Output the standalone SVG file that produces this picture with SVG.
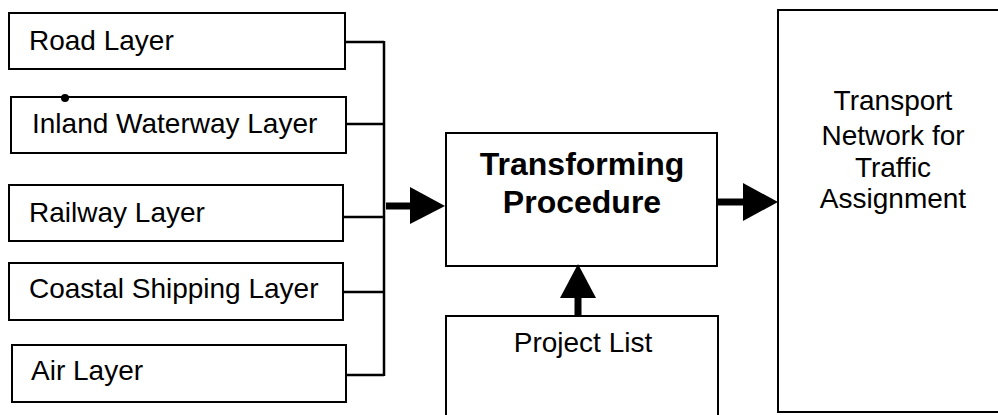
<svg xmlns="http://www.w3.org/2000/svg" width="998" height="415" viewBox="0 0 998 415">
<style>
.box{fill:#fff;stroke:#000;stroke-width:2}
.lbl{font-family:"Liberation Sans",Arial,sans-serif;font-size:28px;fill:#000}
.big{font-family:"Liberation Sans",Arial,sans-serif;font-size:32px;font-weight:bold;fill:#000;text-anchor:middle}
.mid{text-anchor:middle}
.bus{fill:none;stroke:#000;stroke-width:2.5}
.fat{fill:none;stroke:#000;stroke-width:7}
.head{fill:#000}
</style>
<rect width="998" height="415" fill="#fff"/>
<g id="road"><rect class="box" x="9" y="13" width="336" height="56"/><text class="lbl" x="29" y="50">Road Layer</text></g>
<g id="inland"><rect class="box" x="11" y="97" width="335" height="56"/><circle cx="65" cy="98" r="4" fill="#000"/><text class="lbl" x="32" y="133">Inland Waterway Layer</text></g>
<g id="railway"><rect class="box" x="9" y="185" width="334" height="56"/><text class="lbl" x="29" y="222">Railway Layer</text></g>
<g id="coastal"><rect class="box" x="9" y="263" width="334" height="57"/><text class="lbl" x="29" y="298">Coastal Shipping Layer</text></g>
<g id="air"><rect class="box" x="12" y="345" width="334" height="57"/><text class="lbl" x="31" y="380">Air Layer</text></g>
<g id="transforming"><rect class="box" x="446" y="133" width="271" height="133"/><text class="big" x="582" y="175">Transforming</text><text class="big" x="582" y="213">Procedure</text></g>
<g id="project"><rect class="box" x="446" y="316" width="272" height="130"/><text class="lbl mid" x="583" y="352">Project List</text></g>
<g id="transport"><rect class="box" x="778" y="10" width="240" height="402"/>
<text class="lbl mid" x="893" y="110">Transport</text><text class="lbl mid" x="893" y="145">Network for</text><text class="lbl mid" x="893" y="177">Traffic</text><text class="lbl mid" x="893" y="208">Assignment</text></g>
<g id="connectors">
<path class="bus" d="M345 42H384M346 124H384M343 217H384M343 292H384M346 375H384M384 41V376"/>
<path class="fat" d="M386 206H414"/><polygon class="head" points="410,187 445,206 410,224"/>
<path class="fat" d="M717 202H746"/><polygon class="head" points="743,183 778,202 743,221"/>
<path class="fat" d="M578 316V294"/><polygon class="head" points="560,298 578,264 596,298"/>
</g>
</svg>
